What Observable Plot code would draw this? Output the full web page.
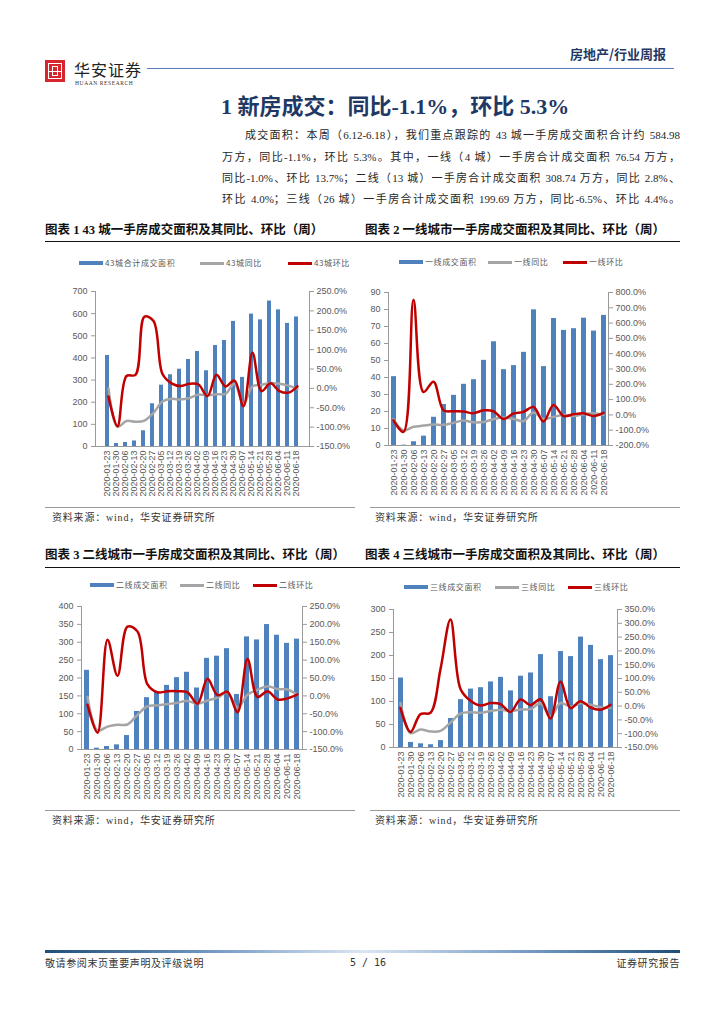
<!DOCTYPE html>
<html><head><meta charset="utf-8">
<script src="https://cdn.jsdelivr.net/npm/d3@7"></script>
<script src="https://cdn.jsdelivr.net/npm/@observablehq/plot@0.6"></script>
<style>
html,body{margin:0;padding:0;background:#fff;}
#page{position:relative;width:724px;height:1024px;overflow:hidden;background:#fff;font-family:"Liberation Serif","Noto Sans CJK SC",serif;color:#222;}
.abs{position:absolute;white-space:nowrap;}
.para{position:absolute;left:222px;width:458px;font-size:11px;line-height:16px;text-align:justify;text-align-last:justify;white-space:nowrap;color:#262626;}
.ctitle{position:absolute;font-size:12.5px;font-weight:bold;line-height:16px;color:#111;font-family:"Liberation Serif","Noto Sans CJK SC",serif;}
.rule{position:absolute;height:0;}
.leg{position:absolute;font-size:8px;line-height:10px;letter-spacing:0.6px;color:#595959;font-family:"Noto Sans CJK SC",sans-serif;white-space:nowrap;}
.sw{position:absolute;}
.src{position:absolute;font-size:10px;line-height:12px;color:#333;letter-spacing:0.8px;font-family:"Liberation Serif","Noto Sans CJK SC",serif;white-space:nowrap;}
.chart{position:absolute;}
.chart svg{position:absolute;left:0;top:0;max-width:none;}
</style>
</head><body><div id="page"></div>
<script>
// ---------- data ----------
const dates = ["2020-01-23","2020-01-30","2020-02-06","2020-02-13","2020-02-20","2020-02-27","2020-03-05","2020-03-12","2020-03-19","2020-03-26","2020-04-02","2020-04-09","2020-04-16","2020-04-23","2020-04-30","2020-05-07","2020-05-14","2020-05-21","2020-05-28","2020-06-04","2020-06-11","2020-06-18"];

const area43 = [411,13.5,18,25,71,193,277,324,349,393,429,342,456,479,565,312,598,572,657,617,556,584.98];
const yoy43  = [0,-99,-84,-86,-83,-63,-34,-27,-29,-25,-16,-18,-15,-14,12,-40,5,9,14,12,7,-1.1];
const mom43  = [-21,-98,32,35,185,174,37,13,6,12,10,-20,35,5,20,-46,92,-7,13,-7,-11,5.3];

const area1 = [40.5,0.2,2.2,5.5,16.6,24.1,29.5,36,38.7,50.1,61,44.6,47,54.8,79.8,46.4,74.7,67.7,68.7,74.9,67.3,76.54];
const yoy1  = [-28,-102,-78,-70,-63,-65,-52,-37,-48,-46,-28,-17,-26,-41,15,-26,-13,0,-7,4,11,-1.0];
const mom1  = [-35,-111,752,150,217,30,24,22,11,30,24,-26,9,20,52,-43,65,-7,4,11,-7,13.7];

const area2 = [221.5,3.7,8.4,13,39,106.5,145,160,179.4,201,216,172,255,261,282,154,315,306.5,349.5,319.6,297,308.74];
const yoy2  = [-3,-97,-86,-81,-80,-53,-29,-27,-23,-19,-14,-22,-13,-5,9,-33,3,17,27,19,18,2.8];
const mom2  = [-25,-103,157,56,194,180,32,10,13,13,10,-22,48,2,11,-46,103,-3,13,-10,-7,4.0];

const area3 = [151,11,8,6,15,63,104,127,130,142.5,152.5,123,155,162,202,110.4,208.5,197.6,240,222,191,199.69];
const yoy3  = [11,-98,-85,-92,-90,-60,-27,-22,-24,-18,-13,-18,-12,-11,10,-38,11,-2,10,5,-4,-6.5];
const mom3  = [-7,-94,-29,-24,134,314,62,19,2,11,7,-21,24,4,25,-45,88,-7,18,-5,-13,4.4];

const leftTicks43 = [0,100,200,300,400,500,600,700];
const rightTicks43 = [-150,-100,-50,0,50,100,150,200,250];
const leftTicks1 = [0,10,20,30,40,50,60,70,80,90];
const rightTicks1 = [-200,-100,0,100,200,300,400,500,600,700,800];
const leftTicks2 = [0,50,100,150,200,250,300,350,400];
const rightTicks2 = [-150,-100,-50,0,50,100,150,200,250];
const leftTicks3 = [0,50,100,150,200,250,300];
const rightTicks3 = [-150,-100,-50,0,50,100,150,200,250,300,350];

const legend43 = ["43城合计成交面积","43城同比","43城环比"];
const legend1 = ["一线成交面积","一线同比","一线环比"];
const legend2 = ["二线成交面积","二线同比","二线环比"];
const legend3 = ["三线成交面积","三线同比","三线环比"];

const chartTitles = ["图表 1 43 城一手房成交面积及其同比、环比（周）","图表 2 一线城市一手房成交面积及其同比、环比（周）","图表 3 二线城市一手房成交面积及其同比、环比（周）","图表 4 三线城市一手房成交面积及其同比、环比（周）"];
const sourceText = "资料来源：wind，华安证券研究所";

const BAR = "#4f81bd", GRAY = "#a5a5a5", RED = "#c00000", AXIS = "#9a9a9a", TXT = "#595959";

// ---------- static page ----------
const page = document.getElementById("page");
function el(cls, style, text){const d=document.createElement("div");d.className=cls;Object.assign(d.style,style);if(text!=null)d.textContent=text;page.appendChild(d);return d;}

// header logo
el("abs",{left:"45px",top:"60px",width:"20px",height:"22px",background:"#d7262d"});
el("abs",{left:"48px",top:"63px",width:"14px",height:"16px",border:"1.2px solid #fff",boxSizing:"border-box"});
el("abs",{left:"52px",top:"66px",width:"6px",height:"10px",border:"1.2px solid #fff",boxSizing:"border-box"});
el("abs",{left:"48px",top:"70.5px",width:"14px",height:"0",borderTop:"1.2px solid #fff"});
el("abs",{left:"74px",top:"59px",fontSize:"16px",lineHeight:"20px",letterSpacing:"1px",fontFamily:"'Noto Sans CJK SC',sans-serif",color:"#222"},"华安证券");
el("abs",{left:"75px",top:"80px",fontSize:"5.5px",lineHeight:"7px",letterSpacing:"0.6px",fontFamily:"'Liberation Serif',serif",color:"#333"},"HUAAN RESEARCH");
el("rule",{left:"147px",top:"68px",width:"527px",borderTop:"1px solid #5a7db8"});
el("abs",{right:"58px",top:"46px",fontSize:"13px",lineHeight:"16px",fontWeight:"bold",color:"#1f3864",fontFamily:"'Noto Sans CJK SC',sans-serif"},"房地产/行业周报");

// section title
el("abs",{left:"221px",top:"94px",fontSize:"22px",lineHeight:"26px",fontWeight:"bold",color:"#1f3864",fontFamily:"'Liberation Serif','Noto Sans CJK SC',serif"},"1  新房成交：同比-1.1%，环比 5.3%");

// paragraph
const paraLines = [
 "成交面积：本周（6.12-6.18），我们重点跟踪的 43 城一手房成交面积合计约 584.98",
 "万方，同比-1.1%，环比 5.3%。其中，一线（4 城）一手房合计成交面积 76.54 万方，",
 "同比-1.0%、环比 13.7%；二线（13 城）一手房合计成交面积 308.74 万方，同比 2.8%、",
 "环比 4.0%；三线（26 城）一手房合计成交面积 199.69 万方，同比-6.5%、环比 4.4%。"];
const paraY=[127,149,170,191];
paraLines.forEach((t,i)=>{const d=el("para",{top:paraY[i]+"px"},t); if(i===0){d.style.left="245px";d.style.width="435px";}});

// footer
el("rule",{left:"45px",top:"950px",width:"635px",height:"3px",background:"linear-gradient(90deg,#1f4e79 0%,#6f95c2 25%,#dbe6f3 50%,#6f95c2 78%,#1f4e79 100%)"});
el("abs",{left:"45px",top:"957px",fontSize:"10px",lineHeight:"12px",letterSpacing:"0.6px",color:"#333",fontFamily:"'Noto Sans CJK SC',sans-serif"},"敬请参阅末页重要声明及评级说明");
el("abs",{left:"350px",top:"957px",fontSize:"10px",lineHeight:"12px",color:"#333",fontFamily:"'DejaVu Sans Mono',monospace"},"5 / 16");
el("abs",{right:"44px",top:"957px",fontSize:"10px",lineHeight:"12px",letterSpacing:"0.6px",color:"#333",fontFamily:"'Noto Sans CJK SC',sans-serif"},"证券研究报告");

// ---------- charts ----------
const charts = [
 {title:chartTitles[0], tx:45, ty:222, ruleY:241, box:[95,309,291,446], area:area43, yoy:yoy43, mom:mom43, lt:leftTicks43, rt:rightTicks43, legend:legend43, legY:258, legX:[79,200,288], srcX:52, srcY:512, srcRule:[45,355,507]},
 {title:chartTitles[1], tx:365, ty:222, ruleY:null, box:[388,608,292,445], area:area1, yoy:yoy1, mom:mom1, lt:leftTicks1, rt:rightTicks1, legend:legend1, legY:257, legX:[399,488,563], srcX:375, srcY:512, srcRule:[370,680,507]},
 {title:chartTitles[2], tx:45, ty:547, ruleY:567, box:[81,302,606,749], area:area2, yoy:yoy2, mom:mom2, lt:leftTicks2, rt:rightTicks2, legend:legend2, legY:580, legX:[90,180,253], srcX:52, srcY:815, srcRule:[45,355,810]},
 {title:chartTitles[3], tx:365, ty:547, ruleY:null, box:[393,617,609,747], area:area3, yoy:yoy3, mom:mom3, lt:leftTicks3, rt:rightTicks3, legend:legend3, legY:582, legX:[404,495,568], srcX:375, srcY:815, srcRule:[370,680,810]}
];

const ML=60, MR=60, MT=12, MB=62;
const fmtPct = d => d.toFixed(1) + "%";

charts.forEach(c=>{
  el("ctitle",{left:c.tx+"px",top:c.ty+"px"},c.title);
  if(c.ruleY!=null) el("rule",{left:"45px",top:c.ruleY+"px",width:"635px",borderTop:"1.5px solid #111"});
  // legend
  el("sw",{left:c.legX[0]+"px",top:(c.legY+3)+"px",width:"24px",height:"4px",background:BAR});
  el("leg",{left:(c.legX[0]+26)+"px",top:c.legY+"px"},c.legend[0]);
  el("sw",{left:c.legX[1]+"px",top:(c.legY+4)+"px",width:"24px",height:"2.5px",background:GRAY});
  el("leg",{left:(c.legX[1]+26)+"px",top:c.legY+"px"},c.legend[1]);
  el("sw",{left:c.legX[2]+"px",top:(c.legY+4)+"px",width:"24px",height:"2.5px",background:RED});
  el("leg",{left:(c.legX[2]+26)+"px",top:c.legY+"px"},c.legend[2]);
  // source
  el("rule",{left:c.srcRule[0]+"px",top:c.srcRule[2]+"px",width:(c.srcRule[1]-c.srcRule[0])+"px",borderTop:"1px solid #9a9a9a"});
  el("src",{left:c.srcX+"px",top:c.srcY+"px"},sourceText);

  const [x0,x1,y0,y1] = c.box;
  const W = (x1-x0)+ML+MR, H = (y1-y0)+MT+MB;
  const holder = el("chart",{left:(x0-ML)+"px",top:(y0-MT)+"px",width:W+"px",height:H+"px"});
  const rows = dates.map((d,i)=>({date:d, area:c.area[i], yoy:c.yoy[i], mom:c.mom[i]}));
  const style = {fontFamily:"'Liberation Sans',Arial,sans-serif", fontSize:"9px", color:TXT, background:"transparent", overflow:"visible"};

  const bars = Plot.plot({
    width:W, height:H, marginLeft:ML, marginRight:MR, marginTop:MT, marginBottom:MB,
    style,
    x:{type:"band", domain:dates, paddingInner:0.53, paddingOuter:0.265},
    y:{domain:[c.lt[0], c.lt[c.lt.length-1]]},
    marks:[
      Plot.barY(rows,{x:"date", y:"area", fill:BAR}),
      Plot.ruleY([c.lt[0]],{stroke:AXIS}),
      Plot.frame({anchor:"left", stroke:AXIS}),
      Plot.axisY({anchor:"left", ticks:c.lt, tickSize:4, tickPadding:4, stroke:AXIS, fill:TXT, label:null}),
      Plot.axisX({anchor:"bottom", tickRotate:-90, tickSize:0, tickPadding:4, fill:TXT, label:null})
    ]
  });
  const lines = Plot.plot({
    width:W, height:H, marginLeft:ML, marginRight:MR, marginTop:MT, marginBottom:MB,
    style,
    x:{type:"point", domain:dates, padding:0.5, axis:null},
    y:{domain:[c.rt[0], c.rt[c.rt.length-1]]},
    marks:[
      Plot.frame({anchor:"right", stroke:AXIS}),
      Plot.axisY({anchor:"right", ticks:c.rt, tickFormat:fmtPct, tickSize:4, tickPadding:3, stroke:AXIS, fill:TXT, label:null}),
      Plot.line(rows,{x:"date", y:"yoy", stroke:GRAY, strokeWidth:2.5, curve:"catmull-rom"}),
      Plot.line(rows,{x:"date", y:"mom", stroke:RED, strokeWidth:2.5, curve:"catmull-rom"})
    ]
  });
  holder.appendChild(bars);
  holder.appendChild(lines);
});
</script>
</body></html>
